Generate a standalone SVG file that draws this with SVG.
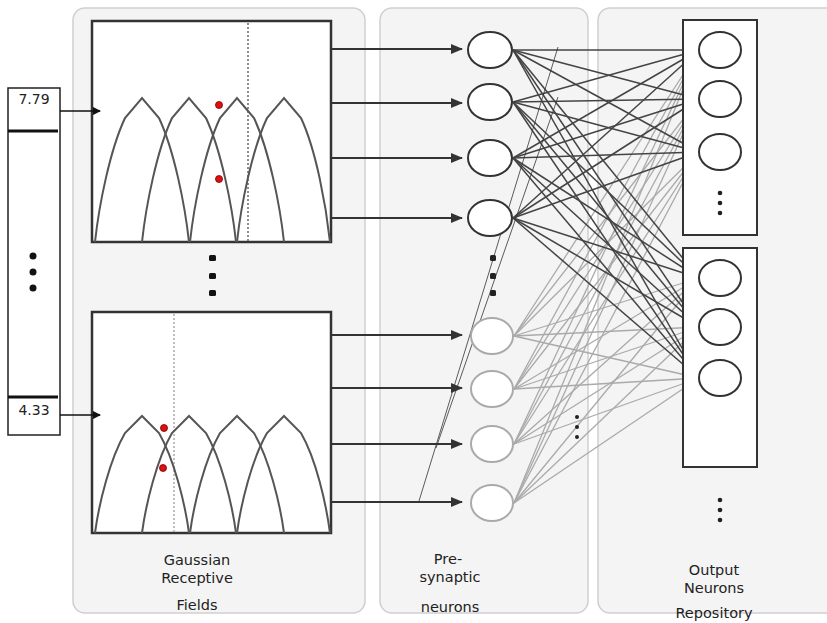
<svg xmlns="http://www.w3.org/2000/svg" width="827" height="623" viewBox="0 0 827 623">
<defs>
<marker id="ah" viewBox="0 0 12 10" refX="11" refY="5" markerWidth="12" markerHeight="10" markerUnits="userSpaceOnUse" orient="auto"><path d="M0,0 L12,5 L0,10 z" fill="#333"/></marker>
<marker id="ahs" viewBox="0 0 8 8" refX="7" refY="4" markerWidth="8" markerHeight="8" markerUnits="userSpaceOnUse" orient="auto"><path d="M0,0 L8,4 L0,8 z" fill="#111"/></marker>
<style>
.panel{fill:#f4f4f4;stroke:#cfcfcf;stroke-width:1.5}
.box{fill:#fff;stroke:#333;stroke-width:2.5}
.curve{fill:none;stroke:#555;stroke-width:2}
.rdot{fill:#e01010;stroke:#700;stroke-width:0.8}
.arr{stroke:#333;stroke-width:2.2;fill:none;marker-end:url(#ah)}
.inarr{stroke:#111;stroke-width:1.5;fill:none;marker-end:url(#ahs)}
.nd{fill:#fff;stroke:#333;stroke-width:2}
.nl{fill:#fff;stroke:#aaa;stroke-width:2}
.obox{fill:#fff;stroke:#333;stroke-width:2}
.dk line{stroke:#444;stroke-width:1.5}
.lt line{stroke:#aaa;stroke-width:1.3}
.lbl{font-family:"DejaVu Sans",sans-serif;font-size:14.5px;fill:#222;text-anchor:middle}
.num{font-family:"DejaVu Sans",sans-serif;font-size:14px;fill:#222;text-anchor:middle}
</style>
</defs>
<rect width="827" height="623" fill="#fff"/>

<g id="panels">
<rect class="panel" x="73" y="8" width="292" height="605" rx="12"/>
<rect class="panel" x="380" y="8" width="208" height="605" rx="12"/>
<rect class="panel" x="598" y="8" width="245" height="605" rx="12"/>
</g>

<g id="input-column">
<rect x="8" y="88" width="52" height="347" fill="#fff" stroke="#222" stroke-width="1.5"/>
<line x1="8" y1="131" x2="58" y2="131" stroke="#111" stroke-width="3"/>
<line x1="8" y1="397" x2="58" y2="397" stroke="#111" stroke-width="3"/>
<text class="num" x="34" y="104">7.79</text>
<text class="num" x="34" y="415">4.33</text>
<circle cx="33" cy="256" r="3.5" fill="#111"/>
<circle cx="33" cy="272" r="3.5" fill="#111"/>
<circle cx="33" cy="288" r="3.5" fill="#111"/>
</g>

<g id="gaussian-top">
<rect class="box" x="92" y="21" width="239" height="221"/>
<line x1="248" y1="23" x2="248" y2="241" stroke="#666" stroke-width="1.5" stroke-dasharray="2,2"/>
<path class="curve" d="M95,242 C99,205 110,150 125,118 L142,98 L159,118 C174,150 185,205 189,242"/>
<path class="curve" d="M142,242 C146,205 157,150 172,118 L189,98 L206,118 C221,150 232,205 236,242"/>
<path class="curve" d="M190,242 C194,205 205,150 220,118 L237,98 L254,118 C269,150 280,205 284,242"/>
<path class="curve" d="M237,242 C241,205 252,150 267,118 L284,98 L301,118 C316,150 326,205 330,242"/>
<circle class="rdot" cx="219" cy="105" r="3.5"/>
<circle class="rdot" cx="219" cy="179" r="3.5"/>
</g>

<g id="gaussian-dots" fill="#111">
<rect x="209" y="255" width="7" height="6" rx="1.5"/>
<rect x="209" y="273" width="7" height="6" rx="1.5"/>
<rect x="209" y="290" width="7" height="6" rx="1.5"/>
</g>

<g id="gaussian-bottom">
<rect class="box" x="92" y="312" width="239" height="221"/>
<line x1="174" y1="314" x2="174" y2="532" stroke="#aaa" stroke-width="1.5" stroke-dasharray="2,2"/>
<path class="curve" d="M95,533 C99,503 110,459 125,433 L142,416 L159,433 C174,459 185,503 189,533"/>
<path class="curve" d="M142,533 C146,503 157,459 172,433 L189,416 L206,433 C221,459 232,503 236,533"/>
<path class="curve" d="M190,533 C194,503 205,459 220,433 L237,416 L254,433 C269,459 280,503 284,533"/>
<path class="curve" d="M237,533 C241,503 252,459 267,433 L284,416 L301,433 C316,459 326,503 330,533"/>
<circle class="rdot" cx="164" cy="428" r="3.5"/>
<circle class="rdot" cx="163" cy="468" r="3.5"/>
</g>

<g id="connectors">
<line class="inarr" x1="60" y1="111" x2="100" y2="111"/>
<line class="inarr" x1="60" y1="415" x2="100" y2="415"/>
<line class="arr" x1="331" y1="49" x2="462" y2="49"/>
<line class="arr" x1="331" y1="103" x2="462" y2="103"/>
<line class="arr" x1="331" y1="158" x2="462" y2="158"/>
<line class="arr" x1="331" y1="218" x2="462" y2="218"/>
<line class="arr" x1="331" y1="335" x2="462" y2="335"/>
<line class="arr" x1="331" y1="388" x2="462" y2="388"/>
<line class="arr" x1="331" y1="444" x2="462" y2="444"/>
<line class="arr" x1="331" y1="502" x2="462" y2="502"/>
<g class="lt">
<line x1="514" y1="336" x2="699" y2="50"/><line x1="514" y1="336" x2="699" y2="99"/><line x1="514" y1="336" x2="699" y2="152"/><line x1="514" y1="336" x2="699" y2="278"/><line x1="514" y1="336" x2="699" y2="327"/><line x1="514" y1="336" x2="699" y2="378"/>
<line x1="514" y1="389" x2="699" y2="50"/><line x1="514" y1="389" x2="699" y2="99"/><line x1="514" y1="389" x2="699" y2="152"/><line x1="514" y1="389" x2="699" y2="278"/><line x1="514" y1="389" x2="699" y2="327"/><line x1="514" y1="389" x2="699" y2="378"/>
<line x1="514" y1="444" x2="699" y2="50"/><line x1="514" y1="444" x2="699" y2="99"/><line x1="514" y1="444" x2="699" y2="152"/><line x1="514" y1="444" x2="699" y2="278"/><line x1="514" y1="444" x2="699" y2="327"/><line x1="514" y1="444" x2="699" y2="378"/>
<line x1="514" y1="503" x2="699" y2="50"/><line x1="514" y1="503" x2="699" y2="99"/><line x1="514" y1="503" x2="699" y2="152"/><line x1="514" y1="503" x2="699" y2="278"/><line x1="514" y1="503" x2="699" y2="327"/><line x1="514" y1="503" x2="699" y2="378"/>
</g>
<g class="dk">
<line x1="513" y1="50" x2="699" y2="50"/><line x1="513" y1="50" x2="699" y2="99"/><line x1="513" y1="50" x2="699" y2="152"/><line x1="513" y1="50" x2="699" y2="278"/><line x1="513" y1="50" x2="699" y2="327"/><line x1="513" y1="50" x2="699" y2="378"/>
<line x1="513" y1="102" x2="699" y2="50"/><line x1="513" y1="102" x2="699" y2="99"/><line x1="513" y1="102" x2="699" y2="152"/><line x1="513" y1="102" x2="699" y2="278"/><line x1="513" y1="102" x2="699" y2="327"/><line x1="513" y1="102" x2="699" y2="378"/>
<line x1="513" y1="158" x2="699" y2="50"/><line x1="513" y1="158" x2="699" y2="99"/><line x1="513" y1="158" x2="699" y2="152"/><line x1="513" y1="158" x2="699" y2="278"/><line x1="513" y1="158" x2="699" y2="327"/><line x1="513" y1="158" x2="699" y2="378"/>
<line x1="513" y1="218" x2="699" y2="50"/><line x1="513" y1="218" x2="699" y2="99"/><line x1="513" y1="218" x2="699" y2="152"/><line x1="513" y1="218" x2="699" y2="278"/><line x1="513" y1="218" x2="699" y2="327"/><line x1="513" y1="218" x2="699" y2="378"/>
</g>
<line x1="558" y1="47" x2="419" y2="501" stroke="#333" stroke-width="0.8"/>
<line x1="558" y1="97" x2="436" y2="448" stroke="#333" stroke-width="0.8"/>
</g>

<g id="presynaptic">
<ellipse class="nd" cx="490" cy="50" rx="22" ry="18"/>
<ellipse class="nd" cx="490" cy="102" rx="22" ry="18"/>
<ellipse class="nd" cx="490" cy="158" rx="22" ry="18"/>
<ellipse class="nd" cx="490" cy="218" rx="22" ry="18"/>
<ellipse class="nl" cx="492" cy="336" rx="21" ry="18"/>
<ellipse class="nl" cx="492" cy="389" rx="21" ry="18"/>
<ellipse class="nl" cx="492" cy="444" rx="21" ry="18"/>
<ellipse class="nl" cx="492" cy="503" rx="21" ry="18"/>
<g fill="#222">
<rect x="490" y="255" width="6" height="6" rx="1.5"/>
<rect x="490" y="273" width="6" height="6" rx="1.5"/>
<rect x="490" y="290" width="6" height="6" rx="1.5"/>
<circle cx="577" cy="417" r="2"/>
<circle cx="577" cy="427" r="2"/>
<circle cx="577" cy="437" r="2"/>
</g>
</g>

<g id="output-box1">
<rect class="obox" x="683" y="20" width="74" height="215"/>
<ellipse class="nd" cx="720" cy="50" rx="21" ry="18"/>
<ellipse class="nd" cx="720" cy="99" rx="21" ry="18"/>
<ellipse class="nd" cx="720" cy="152" rx="21" ry="18"/>
<circle cx="720" cy="193" r="2.3" fill="#222"/>
<circle cx="720" cy="203" r="2.3" fill="#222"/>
<circle cx="720" cy="213" r="2.3" fill="#222"/>
</g>

<g id="output-box2">
<rect class="obox" x="683" y="248" width="74" height="219"/>
<ellipse class="nd" cx="720" cy="278" rx="21" ry="18"/>
<ellipse class="nd" cx="720" cy="327" rx="21" ry="18"/>
<ellipse class="nd" cx="720" cy="378" rx="21" ry="18"/>
</g>

<g id="output-dots" fill="#222">
<circle cx="720" cy="500" r="2.3"/>
<circle cx="720" cy="510" r="2.3"/>
<circle cx="720" cy="520" r="2.3"/>
</g>

<g id="labels">
<text class="lbl" x="197" y="565">Gaussian</text>
<text class="lbl" x="197" y="583">Receptive</text>
<text class="lbl" x="197" y="610">Fields</text>
<text class="lbl" x="448" y="564">Pre-</text>
<text class="lbl" x="450" y="582">synaptic</text>
<text class="lbl" x="450" y="612">neurons</text>
<text class="lbl" x="714" y="575">Output</text>
<text class="lbl" x="714" y="593">Neurons</text>
<text class="lbl" x="714" y="618">Repository</text>
</g>
</svg>
